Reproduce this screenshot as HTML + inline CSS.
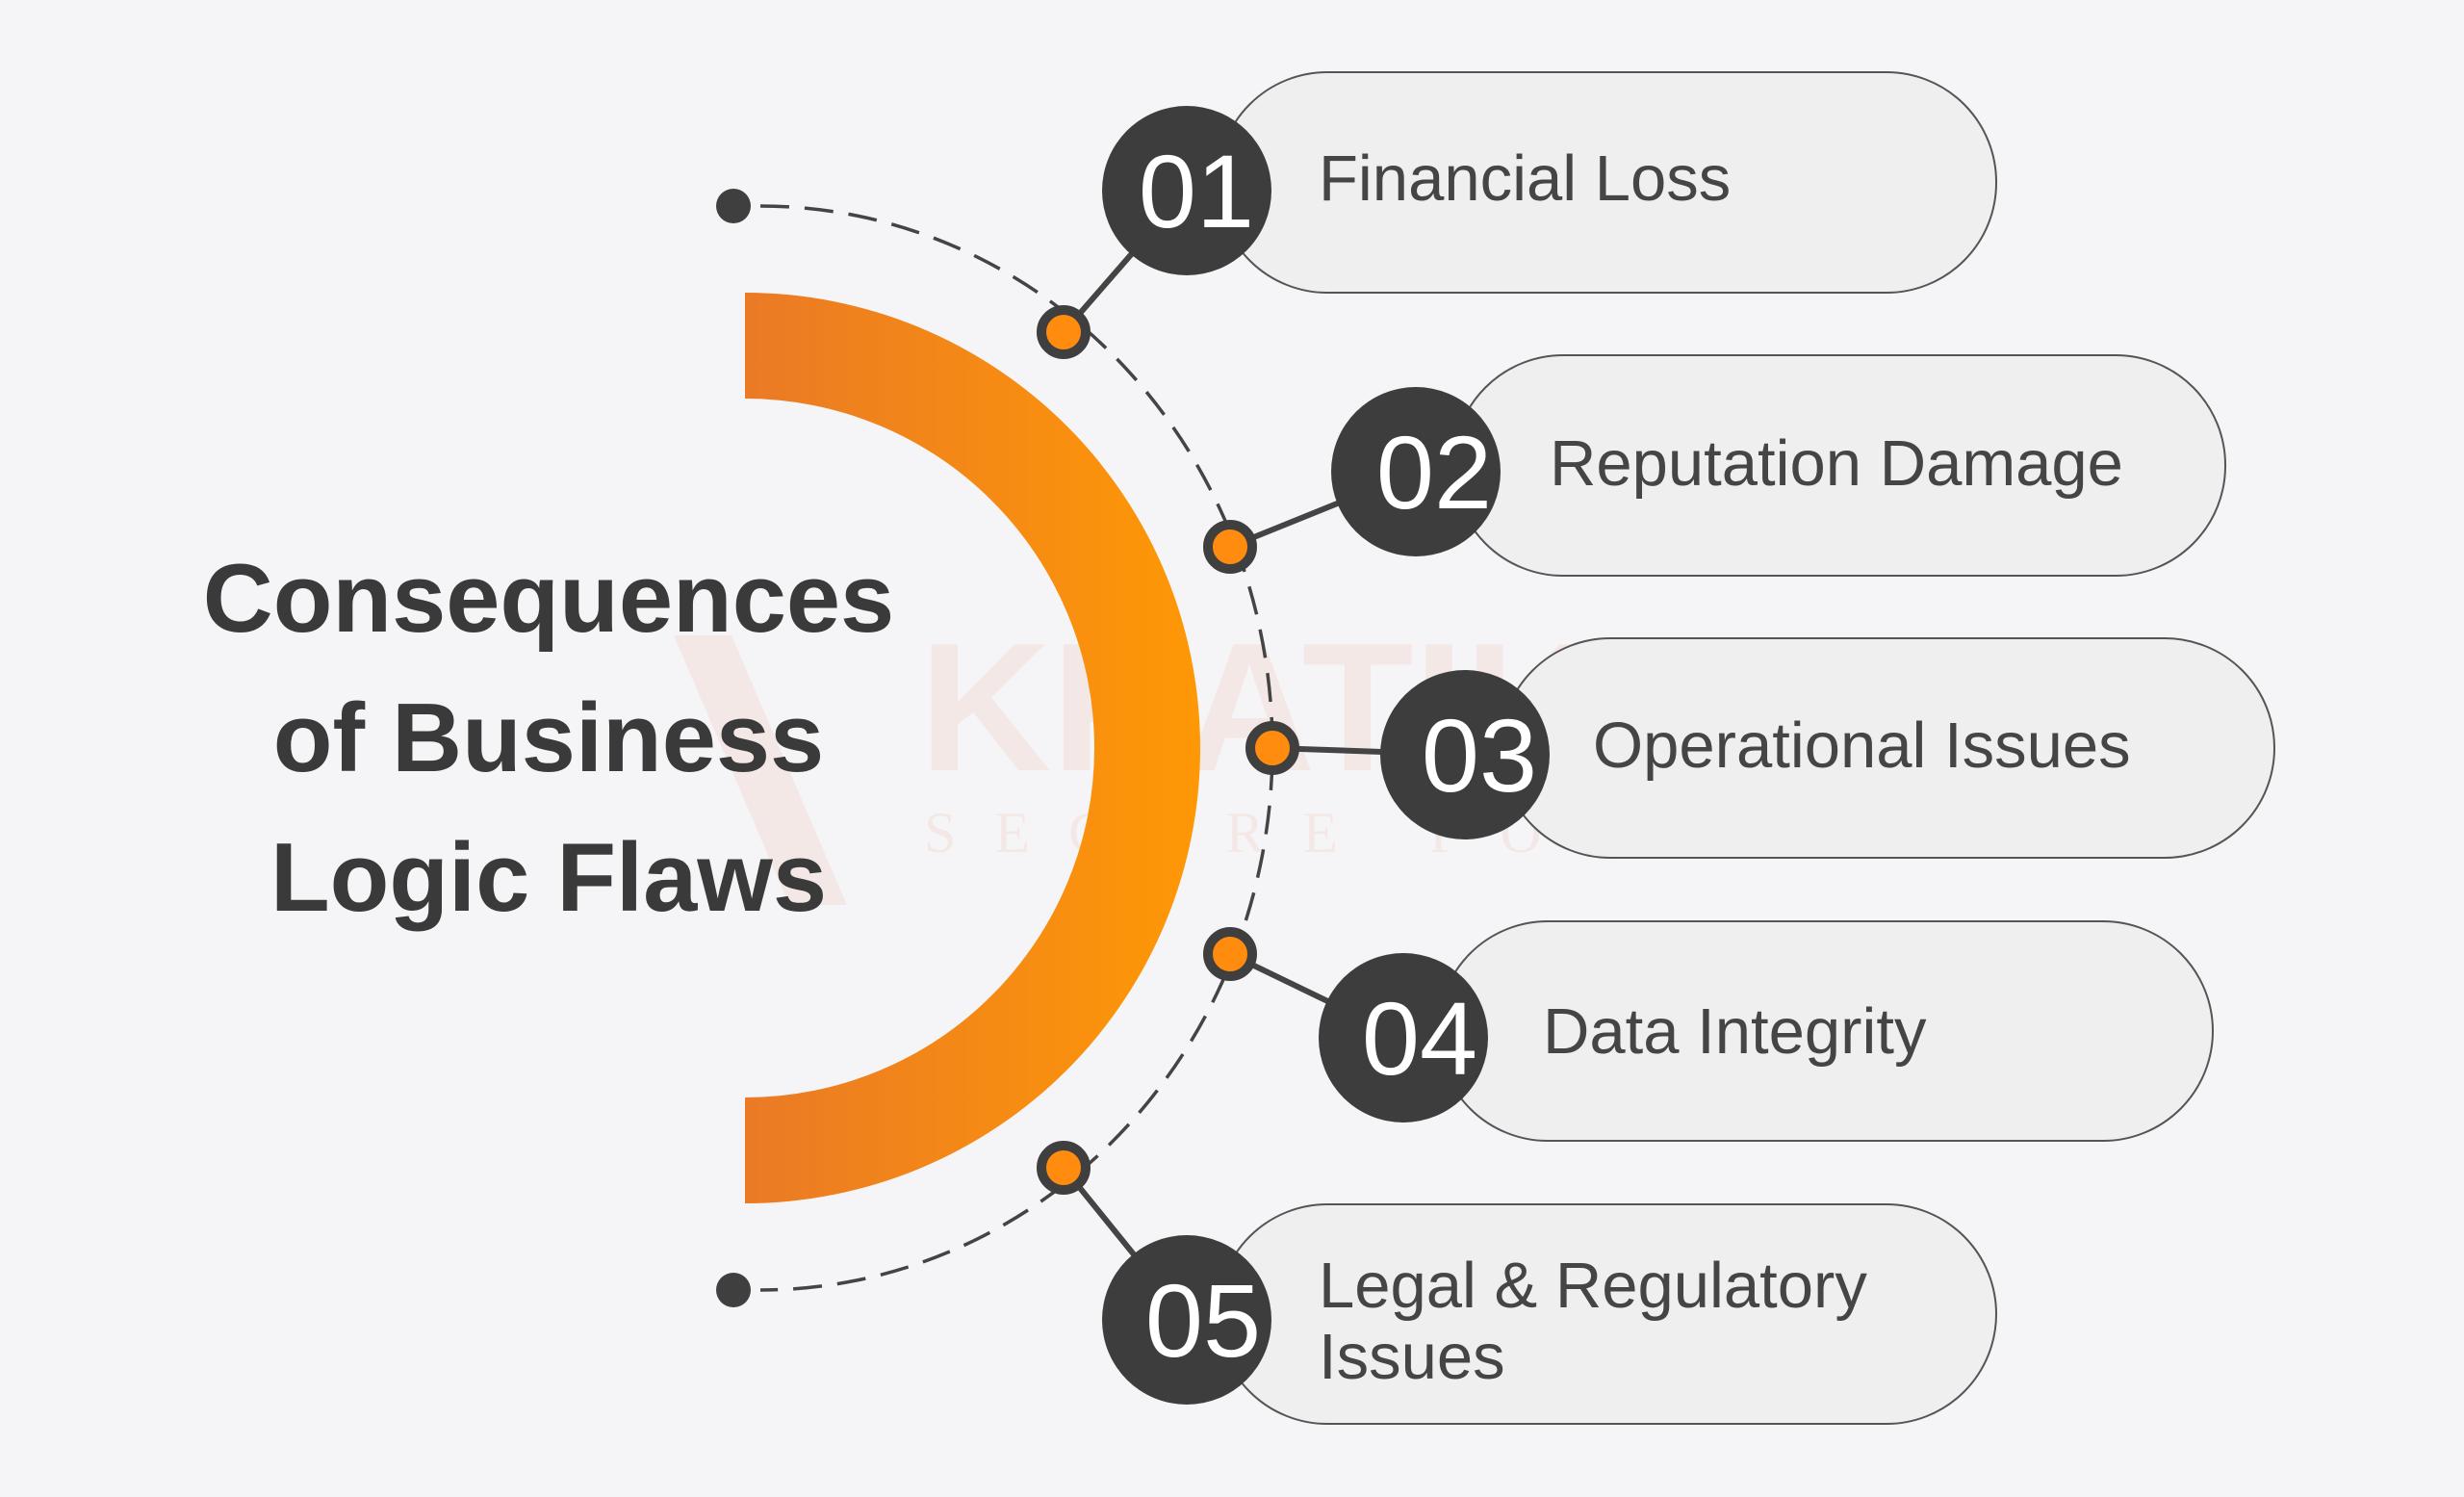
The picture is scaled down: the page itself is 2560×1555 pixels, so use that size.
<!DOCTYPE html>
<html><head><meta charset="utf-8"><style>
html,body{margin:0;padding:0;background:#f5f5f7;}
svg{display:block;}
</style></head><body>
<svg width="2560" height="1555" viewBox="0 0 2560 1555" xmlns="http://www.w3.org/2000/svg" font-family="'Liberation Sans', sans-serif">
<defs>
<linearGradient id="og" x1="0" x2="1" y1="0" y2="0">
<stop offset="0" stop-color="#ea7a25"/><stop offset="1" stop-color="#ff9806"/>
</linearGradient>
</defs>
<rect width="2560" height="1555" fill="#f5f5f7"/>
<g opacity="0.08" fill="#e85a2a">
<polygon points="700,660 760,660 880,940 820,940"/>
<text x="955" y="800" font-size="190" font-weight="bold">KRATIK</text>
<text x="960" y="885" font-size="60" font-family="'Liberation Serif',serif" letter-spacing="40">SECURE FOR</text>
</g>
<path d="M774,304 A473,473 0 0 1 774,1250 L774,1140 A363,363 0 0 0 774,414 Z" fill="url(#og)"/>
<path d="M790,214 A532,563 0 0 1 790,1340" fill="none" stroke="#444" stroke-width="3.5" stroke-dasharray="30,16"/>
<circle cx="762" cy="214" r="18" fill="#3f3f3f"/>
<circle cx="762" cy="1340" r="18" fill="#3f3f3f"/>
<g fill="#efefef" stroke="#555" stroke-width="2">
<rect x="1265" y="75" width="809" height="229" rx="114"/>
<rect x="1510" y="369" width="802" height="229" rx="114"/>
<rect x="1559" y="663" width="804" height="228" rx="114"/>
<rect x="1494" y="957" width="805" height="228" rx="114"/>
<rect x="1265" y="1251" width="809" height="228" rx="114"/>
</g>
<g stroke="#444" stroke-width="6">
<line x1="1105" y1="345" x2="1233" y2="198"/>
<line x1="1278" y1="568" x2="1471" y2="490"/>
<line x1="1322" y1="777" x2="1522" y2="784"/>
<line x1="1278" y1="991" x2="1458" y2="1078"/>
<line x1="1105" y1="1213" x2="1233" y2="1371"/>
</g>
<g fill="#3d3d3d">
<circle cx="1233" cy="198" r="88"/>
<circle cx="1471" cy="490" r="88"/>
<circle cx="1522" cy="784" r="88"/>
<circle cx="1458" cy="1078" r="88"/>
<circle cx="1233" cy="1371" r="88"/>
</g>
<g fill="#fff" font-size="108" text-anchor="middle">
<text x="1243" y="236">01</text>
<text x="1490" y="528">02</text>
<text x="1537" y="822">03</text>
<text x="1475" y="1116">04</text>
<text x="1250" y="1409">05</text>
</g>
<g fill="#ff8c0f" stroke="#3f3f3f" stroke-width="10">
<circle cx="1105" cy="345" r="23"/>
<circle cx="1278" cy="568" r="23"/>
<circle cx="1322" cy="777" r="23"/>
<circle cx="1278" cy="991" r="23"/>
<circle cx="1105" cy="1213" r="23"/>
</g>
<g fill="#454545" font-size="67">
<text x="1370" y="208">Financial Loss</text>
<text x="1610" y="504">Reputation Damage</text>
<text x="1655" y="797">Operational Issues</text>
<text x="1603" y="1094">Data Integrity</text>
<text x="1370" y="1358">Legal &amp; Regulatory</text>
<text x="1370" y="1432">Issues</text>
</g>
<g fill="#3a3a3a" font-size="101" font-weight="bold" text-anchor="middle">
<text x="570" y="656">Consequences</text>
<text x="570" y="801">of Business</text>
<text x="570" y="946">Logic Flaws</text>
</g>
</svg>
</body></html>
